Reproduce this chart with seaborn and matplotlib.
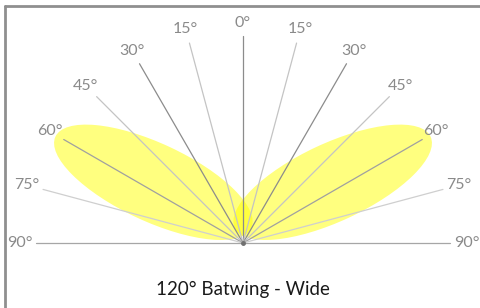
import numpy as np
import pandas as pd
import matplotlib
matplotlib.use("Agg")
import matplotlib.pyplot as plt
from matplotlib.patches import Ellipse
from matplotlib.lines import Line2D
import seaborn as sns

# ---- data ----
angles = [0, 15, 30, 45, 60, 75, 90]            # degrees from vertical
angle_labels = ["0°", "15°", "30°", "45°", "60°", "75°", "90°"]
ray_colors = ["#8c8c8c", "#c4c4c4", "#8c8c8c", "#c4c4c4", "#a0a0a0", "#cfcfcf", "#a6a6a6"]
title_text = "120° Batwing - Wide"

# batwing lobe (one side, mirrored): centre distance/angle, semi-axes, tilt
lobe_center_r = 0.523
lobe_center_angle = 55.9
lobe_semi_major = 0.522
lobe_semi_minor = 0.188
lobe_tilt = 25.0

sns.set_theme(style="white")
plt.rcParams["font.family"] = ["Lato", "DejaVu Sans"]

fig = plt.figure(figsize=(4.81, 3.08), dpi=100)
ax = fig.add_axes([0, 0, 1, 1])
S = 207.0

# lobes
for side in (-1, 1):
    t = np.radians(lobe_center_angle)
    cx, cy = side * lobe_center_r * np.sin(t), lobe_center_r * np.cos(t)
    e = Ellipse((cx, cy), 2 * lobe_semi_major, 2 * lobe_semi_minor,
                angle=side * lobe_tilt, facecolor="#ffff00", alpha=0.5,
                edgecolor="none", zorder=1)
    ax.add_patch(e)

# rays
rows = []
pal = {}
for a, c in zip(angles, ray_colors):
    sides = (1,) if a == 0 else (-1, 1)
    for s in sides:
        key = f"{a}_{s}"
        pal[key] = c
        t = np.radians(a)
        rows.append({"ray": key, "x": 0.0, "y": 0.0})
        rows.append({"ray": key, "x": s * np.sin(t), "y": np.cos(t)})
rays = pd.DataFrame(rows)
sns.lineplot(data=rays, x="x", y="y", hue="ray", units="ray", estimator=None,
             sort=False, palette=pal, legend=False, linewidth=0.9, ax=ax, zorder=3)
ax.set_xlim(-243 / S, 238 / S)
ax.set_ylim(-65 / S, 243 / S)
ax.set_aspect("equal")
ax.axis("off")
ax.plot([0], [0], marker="o", markersize=2.5, color="#707070", zorder=4)

# labels
for a, lab in zip(angles, angle_labels):
    t = np.radians(a)
    sides = (1,) if a == 0 else (-1, 1)
    for s in sides:
        r = 1.065 + 0.015 * np.sin(t)
        ax.text(s * r * np.sin(t), r * np.cos(t), lab, ha="center", va="center",
                fontsize=11.5, color="#8a8a8a", zorder=5)

ax.text(0, -0.225, title_text, ha="center", va="center", fontsize=13.5,
        color="#1a1a1a")

# frame (top and left edges only)
fig.add_artist(Line2D([4.5 / 481, 1], [1 - 6 / 308, 1 - 6 / 308],
                      transform=fig.transFigure, color="#8f8f8f", linewidth=2))
fig.add_artist(Line2D([5 / 481, 5 / 481], [0, 1 - 6 / 308],
                      transform=fig.transFigure, color="#8f8f8f", linewidth=2))

fig.savefig("out.png", dpi=100)
